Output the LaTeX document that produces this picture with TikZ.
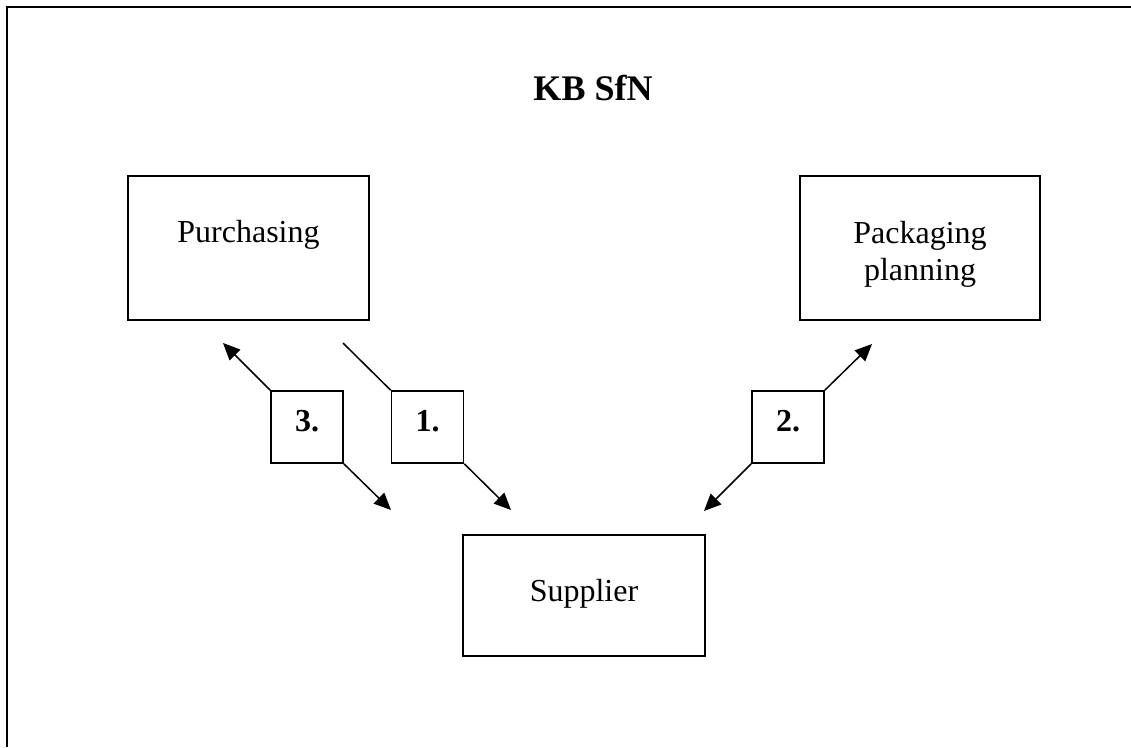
\documentclass[tikz,border=0pt]{standalone}
\usepackage{fontspec}
\setmainfont{Liberation Serif}
\usetikzlibrary{arrows.meta}

\tikzset{
  unit/.style={x=1pt,y=-1pt},
  frameline/.style={line width=2.6pt},
  mainbox/.style={draw,line width=1.6pt,inner sep=0pt,
    font=\fontsize{32}{37}\selectfont,align=center},
  stepnum/.style={draw,line width=1.6pt,inner sep=0pt,
    minimum width=72pt,minimum height=72pt,
    font=\fontsize{32}{37}\selectfont\bfseries,
    text height=22pt,text depth=14pt},
  flow/.style={line width=1.5pt,-{Triangle[length=17pt,width=15pt]}},
  plainflow/.style={line width=1.5pt},
  titletext/.style={font=\fontsize{36}{40}\selectfont\bfseries,anchor=base,inner sep=0pt}
}

\begin{document}
\begin{tikzpicture}[unit]
  \useasboundingbox (0,0) rectangle (1131,747);

  % outer frame, continuing past the right and bottom edges
  \draw[frameline] (7,747) -- (7,7) -- (1131,7);

  % heading
  \node[titletext] (title) at (593,100) {KB SfN};

  % organisational units
  \node[mainbox,minimum width=241pt,minimum height=144pt,
        text height=22pt,text depth=34pt] (purch) at (248.5,248) {Purchasing};
  \node[mainbox,minimum width=240pt,minimum height=144pt,
        text height=64pt,text depth=0pt] (pack) at (920,248)
        {Packaging\\planning};
  \node[mainbox,minimum width=242pt,minimum height=121pt,
        text height=22pt,text depth=11pt] (supp) at (584,595.5) {Supplier};

  % numbered steps
  \node[stepnum] (s3) at (307,427) {3.};
  \node[stepnum] (s1) at (427.5,427) {1.};
  \node[stepnum] (s2) at (788,427) {2.};

  % free ends of the step connectors
  \coordinate (s3up)   at (223,343);
  \coordinate (s3down) at (391,510);
  \coordinate (s1up)   at (343,343);
  \coordinate (s1down) at (511,510);
  \coordinate (s2up)   at (872,344);
  \coordinate (s2down) at (704,511);

  % step 3: exchange in both directions
  \draw[flow] (s3.north west) -- (s3up);
  \draw[flow] (s3.south east) -- (s3down);
  % step 1: purchasing to supplier
  \draw[plainflow] (s1up) -- (s1.north west);
  \draw[flow] (s1.south east) -- (s1down);
  % step 2: exchange in both directions
  \draw[flow] (s2.north east) -- (s2up);
  \draw[flow] (s2.south west) -- (s2down);
\end{tikzpicture}
\end{document}
